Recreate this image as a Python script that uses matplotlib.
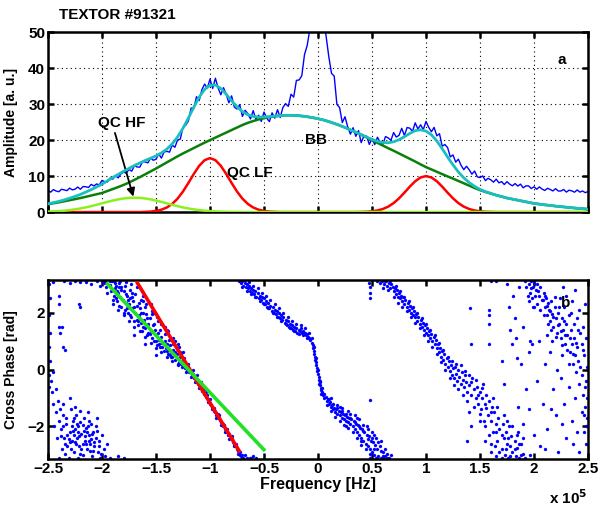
import numpy as np
import matplotlib
matplotlib.use("Agg")
import matplotlib.pyplot as plt

plt.rcParams['font.family'] = ['Liberation Sans', 'DejaVu Sans']
plt.rcParams['font.weight'] = 'bold'
plt.rcParams['axes.labelweight'] = 'bold'

# ---------------- data: panel a (amplitude spectrum) ----------------
spec_freq = np.linspace(-2.5, 2.5, 201)   # x 10^5 Hz
spec_amp = [
    6.01, 5.53, 6.25, 5.85, 5.65, 6.33, 6.17, 5.95, 6.65, 6.18,
    6.34, 6.96, 6.35, 7.1, 7.04, 6.83, 7.7, 7.26, 7.82, 7.54,
    8.8, 8.45, 8.35, 9.45, 9.15, 10.15, 9.5, 10.6, 11.1, 10.8,
    11.86, 11.36, 12.9, 12.52, 12.5, 13.98, 13.92, 13.68, 15.0, 14.4,
    14.68, 16.12, 15.0, 16.7, 16.88, 16.66, 18.6, 18.02, 20.04, 20.28,
    23.6, 24.14, 25.33, 28.91, 28.85, 32.07, 31.0, 34.02, 35.58, 34.46,
    36.96, 34.36, 37.2, 34.52, 32.6, 34.58, 32.72, 30.38, 32.3, 29.2,
    28.64, 29.86, 26.6, 28.3, 27.34, 25.88, 28.2, 25.76, 26.92, 25.19,
    27.8, 26.12, 25.14, 27.58, 26.1, 28.46, 26.3, 29.06, 30.14, 29.38,
    32.76, 31.96, 36.6, 36.72, 37.9, 43.78, 46.32, 50.88, 61.6, 69.2,
    79.3, 71.6, 54.2, 48.9, 43.2, 38.56, 37.8, 29.92, 29.04, 24.88,
    26.5, 23.7, 21.65, 23.45, 21.05, 22.65, 19.3, 21.1, 21.1, 18.8,
    20.46, 18.76, 20.8, 19.47, 18.8, 20.98, 20.62, 19.93, 22.1, 20.85,
    21.32, 23.28, 21.3, 23.5, 23.32, 22.44, 24.8, 23.08, 24.26, 22.92,
    25.2, 23.56, 22.32, 23.54, 21.2, 21.78, 18.3, 18.78, 17.92, 15.34,
    15.88, 13.88, 14.7, 12.96, 11.8, 12.74, 11.76, 10.54, 11.4, 9.8,
    9.58, 10.05, 8.75, 9.38, 8.96, 8.31, 9.15, 8.12, 8.47, 7.66,
    8.45, 7.76, 7.3, 7.92, 7.22, 7.76, 6.75, 7.28, 7.27, 6.54,
    7.04, 6.34, 7.0, 6.38, 6.0, 6.62, 6.28, 5.87, 6.5, 5.85,
    5.86, 6.27, 5.55, 6.08, 5.89, 5.52, 6.15, 5.54, 5.86, 5.39,
    5.7,
]

fit_freq = np.linspace(-2.5, 2.5, 101)
bb_amp = [
    2.2, 2.45, 2.7, 3.0, 3.3, 3.6, 3.9, 4.25, 4.6, 4.95,
    5.3, 5.85, 6.4, 6.95, 7.55, 8.2, 8.95, 9.7, 10.5, 11.3,
    12.1, 12.95, 13.8, 14.65, 15.5, 16.3, 17.05, 17.8, 18.55, 19.3,
    20.0, 20.7, 21.4, 22.1, 22.8, 23.5, 24.2, 24.8, 25.3, 25.75,
    26.1, 26.4, 26.6, 26.8, 26.9, 26.9, 26.85, 26.7, 26.5, 26.25,
    25.95, 25.6, 25.15, 24.65, 24.1, 23.5, 22.85, 22.2, 21.5, 20.75,
    20.0, 19.25, 18.5, 17.75, 17.05, 16.3, 15.55, 14.8, 14.05, 13.25,
    12.5, 11.85, 11.2, 10.55, 9.9, 9.3, 8.65, 8.0, 7.35, 6.7,
    6.1, 5.6, 5.15, 4.7, 4.3, 3.9, 3.6, 3.3, 3.0, 2.7,
    2.4, 2.2, 2.0, 1.85, 1.65, 1.5, 1.35, 1.2, 1.05, 0.95,
    0.8,
]
qclf_amp = [
    0, 0, 0, 0, 0, 0, 0, 0, 0, 0, 0, 0, 0, 0, 0, 0, 0, 0,
    0.06, 0.14, 0.32, 0.66, 1.27, 2.27, 3.74, 5.72, 8.09, 10.6, 12.86, 14.43, 15.0,
    14.43, 12.86, 10.6, 8.09, 5.72, 3.74, 2.27, 1.27, 0.66, 0.32, 0.14, 0.06,
    0, 0, 0, 0, 0, 0, 0, 0, 0, 0, 0, 0, 0, 0, 0,
    0.04, 0.09, 0.21, 0.44, 0.85, 1.51, 2.49, 3.81, 5.39, 7.07, 8.57, 9.62, 10.0,
    9.62, 8.57, 7.07, 5.39, 3.81, 2.49, 1.51, 0.85, 0.44, 0.21, 0.09, 0.04,
    0, 0, 0, 0, 0, 0, 0, 0, 0, 0, 0, 0, 0, 0, 0, 0, 0, 0,
]
qchf_amp = [
    0.11, 0.18, 0.26, 0.38, 0.54, 0.75, 1.0, 1.3, 1.64, 2.03,
    2.43, 2.83, 3.2, 3.53, 3.78, 3.94, 4.0, 3.94, 3.78, 3.53,
    3.2, 2.83, 2.43, 2.03, 1.64, 1.3, 1.0, 0.75, 0.54, 0.38,
    0.26, 0.18, 0.11, 0.07, 0.04, 0.02,
    0, 0, 0, 0, 0, 0, 0, 0, 0, 0, 0, 0, 0, 0, 0, 0, 0, 0, 0, 0,
    0, 0, 0, 0, 0, 0, 0, 0, 0, 0, 0, 0, 0, 0, 0, 0, 0, 0, 0, 0,
    0, 0, 0, 0, 0, 0, 0, 0, 0, 0, 0, 0, 0, 0, 0, 0, 0, 0, 0, 0,
    0, 0, 0, 0, 0,
]
total_amp = np.array(bb_amp) + np.array(qclf_amp) + np.array(qchf_amp)

# ---------------- data: panel b (cross phase) ----------------
band1_pts = [
    (-2.15, 3.08), (-2.1, 3.0), (-2.05, 3.1), (-2.02, 2.95), (-1.98, 3.05), (-1.96, 2.9),
    (-1.97, 3.12), (-1.93, 2.98), (-1.92, 2.75), (-1.91, 3.1), (-1.89, 2.6), (-1.88, 2.85),
    (-1.87, 2.95), (-1.86, 2.4), (-1.85, 2.7), (-1.84, 2.9), (-1.83, 2.55), (-1.82, 2.2),
    (-1.81, 2.45), (-1.8, 2.75), (-1.79, 2.1), (-1.78, 2.35), (-1.77, 2.6), (-1.76, 2.0),
    (-1.75, 2.3), (-1.74, 2.5), (-1.73, 1.85), (-1.72, 2.15), (-1.71, 2.4), (-1.7, 1.7),
    (-1.69, 2.0), (-1.68, 2.25), (-1.67, 1.55), (-1.66, 1.9), (-1.65, 2.15), (-1.64, 1.65),
    (-1.63, 1.35), (-1.62, 2.0), (-1.61, 1.75), (-1.6, 1.45), (-1.59, 1.95), (-1.58, 1.2),
    (-1.57, 1.6), (-1.56, 1.8), (-1.55, 1.35), (-1.54, 1.1), (-1.53, 1.55), (-1.52, 1.0),
    (-1.51, 1.4), (-1.5, 1.2), (-1.49, 0.85), (-1.48, 1.3), (-1.47, 1.05), (-1.46, 0.8),
    (-1.45, 1.15), (-1.44, 0.95), (-1.43, 0.65), (-1.42, 1.0), (-1.41, 0.75), (-1.4, 0.9),
    (-1.39, 0.55), (-1.38, 0.7), (-1.37, 0.85), (-1.36, 0.6), (-1.35, 0.45), (-1.34, 0.7),
    (-1.33, 0.5), (-1.32, 0.35), (-1.31, 0.55), (-1.3, 0.4), (-1.29, 0.25), (-1.28, 0.45),
    (-1.27, 0.2), (-1.26, 0.3), (-1.25, 0.15), (-1.24, 0.25), (-1.23, 0.05), (-1.22, 0.12),
    (-1.21, -0.02), (-1.2, 0.08), (-1.19, -0.1), (-1.18, -0.05), (-1.17, -0.2), (-1.16, -0.15),
    (-1.15, -0.3), (-1.14, -0.22), (-1.13, -0.4), (-1.12, -0.35), (-1.11, -0.5), (-1.1, -0.45),
    (-1.09, -0.65), (-1.08, -0.6), (-1.07, -0.75), (-1.06, -0.7), (-1.05, -0.85), (-1.04, -0.95),
    (-1.03, -0.9), (-1.02, -1.05), (-1.01, -1.1), (-1.0, -1.2), (-0.99, -1.25), (-0.98, -1.3),
    (-0.97, -1.4), (-0.96, -1.45), (-0.95, -1.5), (-0.94, -1.6), (-0.93, -1.55), (-0.92, -1.7),
    (-0.91, -1.78), (-0.9, -1.85), (-0.89, -1.9), (-0.88, -2.0), (-0.87, -1.95), (-0.86, -2.1),
    (-0.85, -2.15), (-0.84, -2.2), (-0.83, -2.3), (-0.82, -2.28), (-0.81, -2.4), (-0.8, -2.45),
    (-0.79, -2.55), (-0.78, -2.6), (-0.77, -2.65), (-0.76, -2.7), (-0.75, -2.8), (-0.74, -2.85),
    (-0.73, -2.95), (-0.72, -3.0), (-0.71, -3.05), (-0.7, -3.1), (-0.68, -3.0), (-0.66, -3.12),
    (-0.63, -3.1), (-0.6, -3.05), (-1.7, 1.2), (-1.6, 0.9), (-1.5, 0.5), (-1.45, 1.6),
    (-1.55, 2.3), (-1.62, 2.6), (-1.4, 1.4), (-1.3, 0.9), (-1.25, 0.6),
]
band1_spread = [
    (-2.0, 3.1), (-1.95, 2.7), (-1.93, 3.1), (-1.9, 2.45), (-1.88, 3.05), (-1.86, 2.75),
    (-1.84, 2.25), (-1.82, 2.8), (-1.8, 2.0), (-1.78, 2.65), (-1.76, 2.45), (-1.74, 1.9),
    (-1.72, 2.55), (-1.7, 2.2), (-1.68, 1.75), (-1.66, 2.35), (-1.64, 2.0), (-1.62, 1.5),
    (-1.6, 2.2), (-1.58, 1.8), (-1.56, 1.25), (-1.54, 1.95), (-1.52, 1.6), (-1.5, 1.0),
    (-1.48, 1.7), (-1.46, 1.4), (-1.44, 0.8), (-1.42, 1.25), (-1.4, 0.65), (-1.38, 1.05),
    (-1.36, 0.45), (-1.34, 0.9), (-1.32, 0.6), (-1.3, 0.2), (-1.28, 0.6), (-1.26, 0.1),
    (-1.24, 0.4), (-1.22, -0.1), (-1.2, 0.2), (-1.18, -0.25), (-1.16, 0.0), (-1.14, -0.45),
    (-1.12, -0.2), (-1.1, -0.65), (-1.08, -0.45), (-1.06, -0.85), (-1.04, -0.8), (-1.02, -1.15),
    (-1.0, -1.05), (-0.98, -1.4), (-0.96, -1.35), (-0.94, -1.7), (-0.92, -1.6), (-0.9, -1.95),
    (-0.88, -1.9), (-0.86, -2.2), (-0.84, -2.1), (-0.82, -2.45), (-0.8, -2.35), (-0.78, -2.7),
    (-0.76, -2.6), (-0.74, -2.95), (-0.72, -2.9), (-0.7, -3.0), (-0.69, -3.12),
    (-1.9, 2.3), (-1.89, 3.1), (-1.85, 2.1), (-1.84, 3.05), (-1.8, 1.9), (-1.79, 2.95),
    (-1.75, 1.7), (-1.74, 2.8), (-1.7, 1.5), (-1.69, 2.65), (-1.65, 1.35), (-1.64, 2.45),
    (-1.6, 1.15), (-1.59, 2.3), (-1.55, 0.95), (-1.54, 2.05), (-1.5, 0.75), (-1.49, 1.85),
    (-1.45, 0.6), (-1.44, 1.6), (-1.4, 0.45), (-1.39, 1.35), (-1.35, 0.3), (-1.34, 1.1),
    (-1.3, 0.15), (-1.29, 0.8), (-1.87, 2.5), (-1.82, 2.9), (-1.77, 2.15), (-1.72, 2.7),
    (-1.67, 1.7), (-1.62, 2.4), (-1.57, 1.3), (-1.52, 2.0), (-1.47, 0.9), (-1.42, 1.5),
    (-1.37, 0.5), (-1.32, 1.0), (-1.27, 0.55), (-1.83, 3.12), (-1.78, 3.08), (-1.73, 3.0),
    (-1.68, 2.9), (-1.63, 2.75),
]
band2_pts = [
    (-0.73, 3.1), (-0.71, 3.05), (-0.7, 3.12), (-0.69, 2.95), (-0.68, 3.05), (-0.67, 2.9),
    (-0.66, 3.0), (-0.65, 2.85), (-0.64, 2.95), (-0.63, 2.75), (-0.62, 2.85), (-0.61, 2.7),
    (-0.6, 2.8), (-0.59, 2.65), (-0.58, 2.75), (-0.57, 2.55), (-0.56, 2.7), (-0.55, 2.5),
    (-0.54, 2.6), (-0.53, 2.45), (-0.52, 2.55), (-0.51, 2.35), (-0.5, 2.5), (-0.49, 2.3),
    (-0.48, 2.4), (-0.47, 2.2), (-0.46, 2.35), (-0.45, 2.15), (-0.44, 2.25), (-0.43, 2.05),
    (-0.42, 2.2), (-0.41, 2.0), (-0.4, 2.1), (-0.39, 1.95), (-0.38, 2.05), (-0.37, 1.85),
    (-0.36, 2.0), (-0.35, 1.8), (-0.34, 1.9), (-0.33, 1.75), (-0.32, 1.85), (-0.31, 1.65),
    (-0.3, 1.75), (-0.29, 1.55), (-0.28, 1.7), (-0.27, 1.5), (-0.26, 1.6), (-0.25, 1.45),
    (-0.24, 1.55), (-0.23, 1.4), (-0.22, 1.5), (-0.21, 1.35), (-0.2, 1.45), (-0.19, 1.3),
    (-0.18, 1.4), (-0.17, 1.35), (-0.16, 1.45), (-0.15, 1.3), (-0.14, 1.35), (-0.13, 1.25),
    (-0.12, 1.3), (-0.11, 1.2), (-0.1, 1.25), (-0.09, 1.15), (-0.08, 1.1), (-0.07, 1.05),
    (-0.06, 0.95), (-0.05, 0.85), (-0.045, 0.75), (-0.04, 0.65), (-0.035, 0.55), (-0.03, 0.45),
    (-0.025, 0.35), (-0.02, 0.25), (-0.015, 0.15), (-0.01, 0.05), (-0.005, -0.05), (0.0, -0.15),
    (0.005, -0.25), (0.01, -0.35), (0.015, -0.45), (0.02, -0.55), (0.025, -0.65), (0.03, -0.72),
    (0.04, -0.8), (0.05, -0.9), (0.06, -1.0), (0.07, -0.95), (0.08, -1.1), (0.09, -1.05),
    (0.1, -1.2), (0.11, -1.15), (0.12, -1.3), (0.13, -1.25), (0.14, -1.4), (0.15, -1.35),
    (0.16, -1.5), (0.17, -1.4), (0.18, -1.55), (0.19, -1.45), (0.2, -1.6), (0.21, -1.5),
    (0.22, -1.7), (0.23, -1.55), (0.24, -1.75), (0.25, -1.6), (0.26, -1.8), (0.27, -1.65),
    (0.28, -1.85), (0.29, -1.7), (0.3, -1.9), (0.12, -1.0), (0.18, -1.25), (0.22, -1.35),
    (0.26, -2.0), (0.3, -1.55), (0.31, -1.75), (0.32, -2.0), (0.33, -1.8), (0.34, -2.1),
    (0.35, -1.9), (0.36, -2.2), (0.37, -1.95), (0.38, -2.3), (0.39, -2.05), (0.4, -2.4),
    (0.41, -2.1), (0.42, -2.5), (0.43, -2.2), (0.44, -2.6), (0.45, -2.3), (0.46, -2.7),
    (0.47, -2.35), (0.48, -2.8), (0.49, -2.5), (0.5, -2.9), (0.51, -2.55), (0.52, -3.0),
    (0.53, -2.65), (0.54, -2.4), (0.55, -2.8), (0.56, -3.05), (0.57, -2.7), (0.58, -3.1),
    (0.6, -2.9), (0.62, -3.05), (0.64, -2.95), (0.66, -3.1), (0.68, -3.0), (0.45, -2.0),
    (0.5, -2.2), (0.4, -2.65), (0.36, -1.7), (0.55, -3.12), (0.6, -3.12), (0.48, -3.1),
]
band2_spread = [
    (-0.7, 2.9), (-0.68, 3.15), (-0.66, 2.75), (-0.64, 3.08), (-0.62, 2.65), (-0.6, 2.95),
    (-0.58, 2.55), (-0.56, 2.85), (-0.54, 2.4), (-0.52, 2.7), (-0.5, 2.3), (-0.48, 2.6),
    (-0.46, 2.15), (-0.44, 2.45), (-0.42, 2.0), (-0.4, 2.3), (-0.38, 1.85), (-0.36, 2.15),
    (-0.34, 1.7), (-0.32, 2.0), (-0.3, 1.6), (-0.28, 1.85), (-0.26, 1.45), (-0.24, 1.7),
    (-0.22, 1.35), (-0.2, 1.6), (-0.18, 1.25), (-0.16, 1.55), (-0.14, 1.2), (-0.12, 1.45),
    (-0.1, 1.1), (-0.08, 1.3), (-0.06, 1.1), (-0.04, 0.8), (-0.02, 0.4), (0.0, 0.0),
    (0.01, -0.5), (0.02, -0.4), (0.03, -0.85), (0.04, -0.65), (0.06, -0.85), (0.08, -1.25),
    (0.1, -1.05), (0.12, -1.45), (0.14, -1.2), (0.16, -1.65), (0.18, -1.35), (0.2, -1.8),
    (0.22, -1.45), (0.24, -1.95), (0.26, -1.55), (0.28, -2.05), (0.3, -1.7), (0.32, -2.2),
    (0.34, -1.85), (0.36, -2.4), (0.38, -2.0), (0.4, -2.5), (0.42, -2.15), (0.44, -2.8),
    (0.46, -2.45), (0.48, -2.95), (0.5, -2.4), (0.52, -2.8), (0.54, -3.1), (0.56, -2.55),
    (0.58, -2.85), (0.6, -3.05), (0.62, -2.8), (0.64, -3.12), (0.34, -1.6), (0.38, -1.75),
    (0.42, -1.95), (0.46, -2.1), (0.52, -2.3), (0.58, -2.5), (0.28, -1.45), (0.2, -1.3),
]
band3_pts = [
    (0.47, 3.05), (0.48, 2.9), (0.48, 2.7), (0.48, 2.5), (0.55, 3.1), (0.57, 3.05),
    (0.59, 3.12), (0.61, 3.0), (0.63, 3.1), (0.64, 2.95), (0.66, 3.05), (0.67, 2.85),
    (0.68, 3.0), (0.69, 2.9), (0.7, 2.75), (0.71, 2.85), (0.72, 2.65), (0.73, 2.8),
    (0.74, 2.55), (0.75, 2.7), (0.76, 2.5), (0.77, 2.6), (0.78, 2.4), (0.79, 2.55),
    (0.8, 2.3), (0.81, 2.45), (0.82, 2.2), (0.83, 2.35), (0.84, 2.1), (0.85, 2.25),
    (0.86, 2.0), (0.87, 2.15), (0.88, 1.9), (0.89, 2.05), (0.9, 1.85), (0.91, 1.95),
    (0.92, 1.7), (0.93, 1.85), (0.94, 1.6), (0.95, 1.75), (0.96, 1.5), (0.97, 1.65),
    (0.98, 1.4), (0.99, 1.55), (1.0, 1.3), (1.01, 1.45), (1.02, 1.2), (1.03, 1.35),
    (1.04, 1.1), (1.05, 1.25), (1.06, 1.0), (1.07, 1.15), (1.08, 0.9), (1.09, 1.05),
    (1.1, 0.75), (1.11, 0.9), (1.12, 0.6), (1.13, 0.75), (1.14, 0.45), (1.15, 0.65),
    (1.16, 0.35), (1.17, 0.55), (1.18, 0.2), (1.19, 0.4), (1.2, 0.1), (1.21, 0.3),
    (1.22, -0.05), (1.23, 0.15), (1.24, -0.2), (1.25, 0.05), (1.26, -0.3), (1.27, 0.1),
    (1.28, -0.15), (1.29, -0.4), (1.3, 0.0), (1.31, -0.25), (1.32, -0.5), (1.33, -0.1),
    (1.34, -0.35), (1.35, -0.6), (1.36, -0.2), (1.37, -0.45), (1.38, -0.8), (1.4, -0.55),
    (1.42, -0.9), (1.43, -0.3), (1.44, -0.7), (1.46, -1.0), (1.47, -0.6), (1.48, -1.2),
    (1.5, -0.8), (1.51, -1.4), (1.52, -1.0), (1.53, -0.5), (1.55, -1.2), (1.56, -0.9),
    (1.57, -1.6), (1.58, -1.1), (1.6, -1.8), (1.61, -1.3), (1.62, -2.2), (1.63, -1.5),
    (1.65, -1.9), (1.66, -2.5), (1.67, -1.7), (1.68, -2.1), (1.7, -2.8), (1.71, -1.9),
    (1.72, -2.4), (1.73, -3.0), (1.74, -2.2), (1.75, -2.6), (1.76, -3.1), (1.77, -2.0),
    (1.78, -2.7), (1.79, -2.35), (1.8, -2.9), (1.82, -2.5), (1.83, -3.05), (1.84, -2.75),
    (1.85, -2.2), (1.86, -3.1), (1.88, -2.6), (1.9, -2.95), (1.92, -3.1), (1.7, -3.1),
    (1.65, -3.05), (1.6, -2.6),
]
band3_spread = [
    (0.6, 2.85), (0.62, 3.12), (0.65, 2.8), (0.67, 3.1), (0.7, 2.55), (0.72, 2.95),
    (0.74, 2.35), (0.76, 2.75), (0.78, 2.2), (0.8, 2.55), (0.82, 2.05), (0.84, 2.4),
    (0.86, 1.85), (0.88, 2.2), (0.9, 1.65), (0.92, 2.0), (0.94, 1.45), (0.96, 1.8),
    (0.98, 1.2), (1.0, 1.6), (1.02, 1.0), (1.04, 1.4), (1.06, 0.8), (1.08, 1.2),
    (1.1, 0.55), (1.12, 0.95), (1.14, 0.25), (1.16, 0.7), (1.18, 0.0), (1.2, 0.45),
    (1.22, -0.3), (1.24, 0.3), (1.26, -0.55), (1.28, 0.2), (1.3, -0.7), (1.32, 0.15),
    (1.34, -0.9), (1.36, -0.05), (1.38, -1.1), (1.4, -0.2), (1.42, -0.45), (1.44, -1.3),
    (1.46, -0.35), (1.48, -0.9), (1.5, -1.55), (1.52, -0.65), (1.54, -1.8), (1.56, -1.35),
    (1.58, -2.3), (1.6, -1.5), (1.62, -1.0), (1.64, -2.7), (1.66, -1.3), (1.68, -2.9),
    (1.7, -2.3), (1.72, -1.6), (1.74, -2.8), (1.76, -2.4), (1.78, -3.05), (1.8, -2.0),
    (1.82, -2.8), (1.84, -2.3), (1.86, -2.6), (1.88, -3.0), (1.9, -2.4), (1.6, -2.9),
    (1.55, -2.5), (1.65, -2.2), (1.75, -1.8),
]
right_pts = [
    (1.92, 3.1), (1.95, 3.0), (1.97, 3.12), (1.99, 2.9), (2.0, 3.05), (2.02, 2.8),
    (2.03, 3.0), (1.96, 2.7), (1.98, 2.5), (2.0, 2.2), (1.94, 2.6), (2.05, 2.6),
    (2.06, 2.9), (2.08, 2.45), (2.09, 2.7), (2.1, 2.2), (2.11, 2.5), (2.12, 1.9),
    (2.13, 2.35), (2.14, 2.1), (2.15, 1.7), (2.16, 2.4), (2.17, 1.95), (2.18, 1.5),
    (2.19, 2.2), (2.2, 1.8), (2.21, 1.3), (2.22, 2.0), (2.23, 1.6), (2.24, 2.5),
    (2.25, 1.1), (2.26, 1.8), (2.27, 1.4), (2.28, 2.2), (2.29, 0.9), (2.3, 1.6),
    (2.31, 1.2), (2.32, 1.9), (2.33, 0.6), (2.34, 1.4), (2.35, 0.9), (2.36, 0.2),
    (2.37, 1.1), (2.38, 0.5), (2.39, -0.1), (2.4, 0.8), (2.41, 0.3), (2.42, -0.5),
    (2.43, 1.3), (2.44, -0.2), (2.45, -0.9), (2.46, 0.5), (2.47, -1.3), (2.48, -0.4),
    (2.49, -1.7), (2.49, 0.1), (2.46, -2.2), (2.48, -2.6), (2.44, -1.5), (2.42, -2.9),
    (2.38, -1.0), (2.35, -1.8), (2.32, -0.6), (2.3, -2.4), (2.28, -1.2), (2.25, -0.3),
    (2.22, -2.9), (2.2, -1.6), (2.18, -0.7), (2.15, 0.6), (2.12, -2.1), (2.1, 0.2),
    (2.08, -1.2), (2.06, -2.7), (2.05, 1.0), (2.03, -0.4), (2.0, -2.3), (1.98, 0.9),
    (1.96, -3.0), (2.3, 2.6), (2.35, 2.4), (2.4, 1.8), (2.42, 2.1), (2.45, 1.5),
    (2.47, 2.3), (2.38, 2.8), (2.27, 2.9), (2.32, 0.2), (2.26, 0.5), (2.21, 0.0),
    (2.44, 0.9), (2.48, 1.1), (2.12, 1.2), (2.17, 1.0),
    (1.93, 2.9), (1.95, 2.4), (1.97, 2.85), (1.99, 2.2), (2.01, 2.6), (2.03, 2.3),
    (2.04, 2.75), (2.06, 2.1), (2.07, 2.45), (2.09, 1.9), (2.1, 2.6), (2.12, 2.25),
    (2.13, 1.6), (2.15, 2.05), (2.16, 1.4), (2.18, 1.85), (2.19, 2.55), (2.2, 1.15),
    (2.22, 1.55), (2.23, 2.2), (2.25, 1.35), (2.26, 0.85), (2.28, 1.7), (2.29, 1.2),
    (2.31, 0.7), (2.33, 1.1), (2.34, 2.0), (2.36, 0.55), (2.37, 1.6), (2.39, 0.95),
    (2.41, 1.4), (2.43, 0.1), (2.45, 0.7), (2.47, -0.6), (2.49, -1.0), (2.46, -1.6),
    (2.48, -2.0), (2.4, -2.2), (2.36, -2.6), (2.26, -1.9), (2.16, -1.4), (2.1, -2.8),
]
sparse_pts = [
    (1.41, 2.15), (1.42, 0.9), (1.58, 2.1), (1.58, 1.9), (1.58, 1.6), (1.6, 3.1),
    (1.65, 3.12), (1.75, 3.0), (1.77, 2.2), (1.78, 1.4), (1.8, 0.9), (1.81, 2.6),
    (1.82, 1.8), (1.83, 1.1), (1.84, 0.4), (1.86, 2.9), (1.88, 0.2), (1.9, 1.5),
    (1.93, -0.7), (1.95, 0.6), (1.96, 1.0), (1.58, 0.9), (1.7, 0.3), (1.72, -0.5),
    (1.85, -1.3), (1.9, -1.9), (1.95, -1.4), (0.48, -1.07), (1.4, -1.5), (1.42, -2.0),
    (1.38, -2.5), (1.55, -2.0), (1.5, -1.8),
    (-2.49, 3.0), (-2.48, 2.5), (-2.49, 1.9), (-2.48, 1.3), (-2.49, 0.8), (-2.48, 0.3),
    (-2.49, -0.2), (-2.49, -0.6), (-2.4, 1.5), (-2.39, 1.3), (-2.37, 1.5), (-2.36, 0.8),
    (-2.34, 0.7), (-2.4, 2.6), (-2.4, 2.3), (-2.21, 2.3), (-2.2, 2.2), (-2.45, 3.08),
    (-2.35, 3.1), (-2.3, 3.05), (-2.25, 3.1), (-2.2, 3.06), (-0.62, -3.1), (-0.57, -3.1),
]
lowleft_pts = [
    (-2.45, -1.2), (-2.43, -1.5), (-2.4, -1.8), (-2.38, -2.1), (-2.36, -1.6), (-2.35, -2.4),
    (-2.33, -1.9), (-2.32, -2.7), (-2.3, -2.2), (-2.29, -1.4), (-2.28, -2.5), (-2.27, -1.8),
    (-2.26, -2.9), (-2.25, -2.1), (-2.24, -1.6), (-2.23, -2.4), (-2.22, -2.0), (-2.21, -2.7),
    (-2.2, -1.85), (-2.19, -2.25), (-2.18, -3.0), (-2.17, -1.7), (-2.16, -2.5), (-2.15, -2.05),
    (-2.14, -2.8), (-2.13, -1.5), (-2.12, -2.3), (-2.11, -2.6), (-2.1, -1.9), (-2.09, -3.05),
    (-2.08, -2.2), (-2.07, -2.7), (-2.06, -2.4), (-2.05, -1.7), (-2.04, -2.9), (-2.03, -2.5),
    (-2.02, -3.1), (-2.0, -2.3), (-1.98, -2.8), (-1.97, -3.05), (-1.95, -2.6), (-1.93, -3.1),
    (-2.34, -2.95), (-2.31, -3.1), (-2.37, -2.8), (-2.4, -3.1), (-2.42, -2.4), (-2.44, -2.0),
    (-2.46, -0.8), (-2.47, -0.4), (-2.45, -0.1), (-2.43, -0.7), (-2.41, -1.1), (-2.39, -1.4),
    (-2.36, -1.2), (-2.3, -1.0), (-2.25, -1.3), (-2.2, -1.45), (-2.22, -3.1), (-2.18, -2.6),
    (-2.26, -2.3), (-2.28, -2.0), (-2.14, -2.2), (-2.12, -1.8), (-2.1, -2.45), (-2.06, -2.0),
    (-2.08, -2.85), (-2.24, -2.6), (-2.32, -2.3), (-2.2, -2.95), (-1.85, -3.05), (-1.8, -3.1),
    (-2.38, -2.35), (-2.36, -2.0), (-2.34, -2.6), (-2.33, -1.7), (-2.31, -2.45), (-2.29, -2.8),
    (-2.27, -2.15), (-2.25, -2.55), (-2.23, -1.9), (-2.21, -2.35), (-2.19, -2.8), (-2.17, -2.15),
    (-2.15, -2.6), (-2.13, -2.0), (-2.11, -2.85), (-2.09, -2.25), (-2.07, -2.55), (-2.05, -2.15),
    (-2.03, -2.7), (-2.01, -2.95), (-2.18, -1.95), (-2.22, -2.2), (-2.26, -1.7), (-2.3, -2.55),
    (-2.16, -2.35), (-2.12, -2.5),
]
red_fit_x = [-1.68, -0.72]
red_fit_y = [3.09, -2.92]
green_fit_x = [-1.96, -0.49]
green_fit_y = [3.05, -2.86]

x_ticks = [-2.5, -2, -1.5, -1, -0.5, 0, 0.5, 1, 1.5, 2, 2.5]
x_tick_labels = ['\u22122.5', '\u22122', '\u22121.5', '\u22121', '\u22120.5', '0',
                 '0.5', '1', '1.5', '2', '2.5']
amp_ticks = [0, 10, 20, 30, 40, 50]
phase_ticks = [-2, 0, 2]
phase_tick_labels = ['\u22122', '0', '2']

# ---------------- figure ----------------
fig = plt.figure(figsize=(6.0, 5.11), dpi=100)
ax1 = fig.add_axes([0.08, 0.585, 0.90, 0.352])
ax2 = fig.add_axes([0.08, 0.1018, 0.90, 0.350])

BLUE = '#0000ff'
CYAN = '#19bfbf'
DKGREEN = '#0a7f0a'
RED = '#ff0000'
LTGREEN = '#8cf020'

ax1.plot(spec_freq, spec_amp, color=BLUE, lw=1.0, zorder=2)
ax1.plot(fit_freq, bb_amp, color=DKGREEN, lw=1.8, zorder=3)
ax1.plot(fit_freq, total_amp, color=CYAN, lw=2.0, zorder=4)
ax1.plot(fit_freq, qclf_amp, color=RED, lw=1.8, zorder=5)
ax1.plot(fit_freq, qchf_amp, color=LTGREEN, lw=1.8, zorder=6)

ax1.set_xlim(-2.5, 2.5)
ax1.set_ylim(0, 50)
ax1.set_xticks(x_ticks)
ax1.set_xticklabels([])
ax1.set_yticks(amp_ticks)
ax1.grid(True, color='black', linestyle=(0, (1, 3)), lw=0.8)
ax1.set_ylabel('Amplitude [a. u.]', fontsize=10)
ax1.yaxis.set_label_coords(-0.056, 0.5)

ax1.text(0.128, 1.094, 'TEXTOR #91321', transform=ax1.transAxes,
         ha='center', va='center', fontsize=11, fontweight='bold')
ax1.text(2.26, 42.2, 'a', ha='center', va='center', fontsize=11, fontweight='bold')
ax1.text(-2.04, 24.7, 'QC HF', ha='left', va='center', fontsize=11, fontweight='bold')
ax1.text(-0.84, 10.8, 'QC LF', ha='left', va='center', fontsize=11, fontweight='bold')
ax1.text(-0.12, 20.0, 'BB', ha='left', va='center', fontsize=11, fontweight='bold')
ax1.annotate('', xy=(-1.71, 4.3), xytext=(-1.88, 22.0),
             arrowprops=dict(arrowstyle='-|>', color='black', lw=1.3,
                             mutation_scale=12, shrinkA=0, shrinkB=0))

for cluster in (band1_pts, band1_spread, band2_pts, band2_spread, band3_pts,
                band3_spread, right_pts, sparse_pts, lowleft_pts):
    cx, cy = zip(*cluster)
    ax2.plot(cx, cy, linestyle='none', marker='o', ms=2.2, mfc=BLUE, mec=BLUE,
             mew=0.2, zorder=2)
ax2.plot(red_fit_x, red_fit_y, color=RED, lw=2.6, solid_capstyle='butt', zorder=3)
ax2.plot(green_fit_x, green_fit_y, color='#22e022', lw=2.6, solid_capstyle='butt', zorder=4)

ax2.set_xlim(-2.5, 2.5)
ax2.set_ylim(-np.pi, np.pi)
ax2.set_xticks(x_ticks)
ax2.set_xticklabels(x_tick_labels)
ax2.set_yticks(phase_ticks)
ax2.set_yticklabels(phase_tick_labels)
ax2.set_ylabel('Cross Phase [rad]', fontsize=10)
ax2.yaxis.set_label_coords(-0.056, 0.5)
ax2.set_xlabel('Frequency [Hz]', fontsize=11.5, labelpad=1)
ax2.text(2.29, 2.35, 'b', ha='center', va='center', fontsize=11, fontweight='bold')
fig.text(0.915, 0.027, r'x 10$^{\mathbf{5}}$', ha='left', va='center',
         fontsize=11, fontweight='bold')

for ax in (ax1, ax2):
    for s in ax.spines.values():
        s.set_linewidth(1.8)
    ax.tick_params(direction='in', length=4, width=1.8, top=True, right=True,
                   labelsize=11, pad=2)
    for lab in ax.get_xticklabels() + ax.get_yticklabels():
        lab.set_fontweight('bold')

fig.savefig('out.png', dpi=100)
